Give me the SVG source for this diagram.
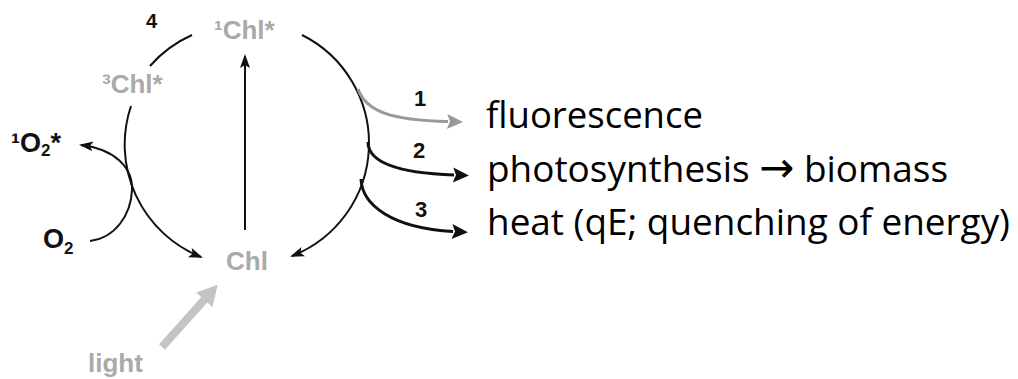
<svg xmlns="http://www.w3.org/2000/svg" width="1018" height="379" viewBox="0 0 1018 379">
<style>
.lbl{font-family:"Liberation Sans",Arial,sans-serif;font-weight:bold;}
.grey{fill:#aaaaaa;font-size:26px;}
.blk{fill:#111111;}
.big{font-family:"Open Sans","Liberation Sans",sans-serif;font-size:37px;fill:#000000;}
.ln{fill:none;stroke:#111111;stroke-width:2;}
</style>
<defs>
<marker id="ah" markerUnits="userSpaceOnUse" markerWidth="14" markerHeight="10" refX="12" refY="5" orient="auto" overflow="visible">
<path d="M0,0 L14,5 L0,10 L3,5 z" fill="#111111"/>
</marker>
<marker id="ahBig" markerUnits="userSpaceOnUse" markerWidth="16" markerHeight="15" refX="1" refY="7.5" orient="auto" overflow="visible">
<path d="M0,0 L16,7.5 L0,15 L3,7.5 z" fill="#111111"/>
</marker>
<marker id="ahGrey" markerUnits="userSpaceOnUse" markerWidth="16" markerHeight="15" refX="1" refY="7.5" orient="auto" overflow="visible">
<path d="M0,0 L16,7.5 L0,15 L3,7.5 z" fill="#999999"/>
</marker>
<marker id="ahLight" markerUnits="userSpaceOnUse" markerWidth="20" markerHeight="22" refX="1" refY="11" orient="auto" overflow="visible">
<path d="M0,0 L20,11 L0,22 z" fill="#c4c4c4"/>
</marker>
</defs>

<g id="connectors">
<path class="ln" d="M150,66 A121,121 0 0 1 192,35"/>
<path class="ln" d="M302,35 A121,121 0 0 1 292,256" marker-end="url(#ah)"/>
<path class="ln" d="M131,106 A121,121 0 0 0 201,257" marker-end="url(#ah)"/>
<path class="ln" d="M245,230 L245,56" marker-end="url(#ah)"/>
<path class="ln" d="M90,241 C115,238 131,215 132,190 C133,168 115,149 81,145" marker-end="url(#ah)"/>
<path d="M162,347 L205,299" fill="none" stroke="#c4c4c4" stroke-width="8" marker-end="url(#ahLight)"/>
<path d="M358,89 C366,112 392,120 448,121.5" fill="none" stroke="#999999" stroke-width="3" marker-end="url(#ahGrey)"/>
<path d="M368,142 C368,162 398,173 454,175" fill="none" stroke="#111111" stroke-width="3" marker-end="url(#ahBig)"/>
<path d="M361,179 C362,205 392,228 453,231.5" fill="none" stroke="#111111" stroke-width="3" marker-end="url(#ahBig)"/>
<text class="lbl blk" x="146" y="28" font-size="20">4</text>
<text class="lbl blk" x="414" y="106" font-size="22">1</text>
<text class="lbl blk" x="413" y="158" font-size="22">2</text>
<text class="lbl blk" x="415" y="217" font-size="22">3</text>
</g>

<g id="n-1chl"><text class="lbl grey" x="214" y="39">¹Chl*</text></g>
<g id="n-3chl"><text class="lbl grey" x="102" y="93">³Chl*</text></g>
<g id="n-chl"><text class="lbl grey" x="226" y="270">Chl</text></g>
<g id="n-light"><text class="lbl grey" x="88" y="372">light</text></g>
<g id="n-1o2"><text class="lbl blk" x="11" y="152" font-size="27">¹O<tspan font-size="17" dy="4">2</tspan><tspan dy="-4">*</tspan></text></g>
<g id="n-o2"><text class="lbl blk" x="43" y="248" font-size="27">O<tspan font-size="17" dy="6">2</tspan></text></g>

<g id="n-fluorescence"><text class="big" x="486" y="128" textLength="217" lengthAdjust="spacingAndGlyphs">fluorescence</text></g>
<g id="n-photosynthesis"><text class="big" x="487" y="182" textLength="461" lengthAdjust="spacingAndGlyphs">photosynthesis <tspan font-family="DejaVu Sans" font-size="42">→</tspan> biomass</text></g>
<g id="n-heat"><text class="big" x="487" y="235" textLength="523" lengthAdjust="spacingAndGlyphs">heat (qE; quenching of energy)</text></g>
</svg>
